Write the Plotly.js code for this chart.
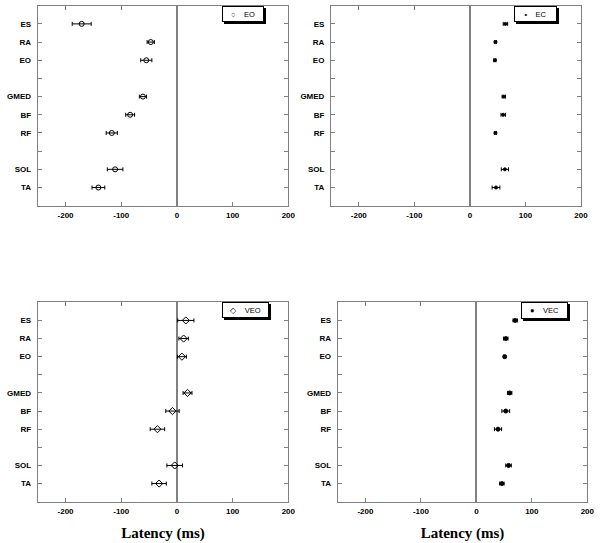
<!DOCTYPE html>
<html>
<head>
<meta charset="utf-8">
<script src="https://cdn.plot.ly/plotly-3.0.1.min.js"></script>
<style>html,body{margin:0;padding:0;background:#fff;} #chart{width:601px;height:543px;}</style>
</head>
<body>
<div id="chart"></div>
<script>
// Muscles from top to bottom
var muscles = ["ES", "RA", "EO", "GMED", "BF", "RF", "SOL", "TA"];
// Category order on the y axis, bottom to top (blank spacer rows between groups)
var categoryOrder = ["TA", "SOL", " ", "RF", "BF", "GMED", "  ", "EO", "RA", "ES"];
var xTicks = [-200, -100, 0, 100, 200];
var xTickLabels = ["-200", "-100", "0", "100", "200"];

var eoMean  = [-171, -47, -55, -61, -84, -117, -111, -141];
var eoErr   = [17, 6.5, 10, 6.5, 8, 10, 14, 11.5];
var ecMean  = [64, 46, 45, 61, 60, 46, 63, 47];
var ecErr   = [4, 2, 2, 3, 4, 2, 6.5, 7];
var veoMean = [16, 12, 9, 19, -8, -35, -4, -32];
var veoErr  = [14.5, 8.5, 8, 8, 12, 13, 14, 13];
var vecMean = [70, 53, 51, 60, 53, 39, 58, 46];
var vecErr  = [4, 4, 2, 4, 7, 6.5, 5, 4];

var W = 601, H = 543;
function px(x){ return x / W; }
function py(y){ return 1 - y / H; }

function trace(name, mean, err, symbol, size, ax) {
  return {
    type: "scatter", mode: "markers", name: name,
    x: mean, y: muscles,
    xaxis: "x" + ax, yaxis: "y" + ax,
    showlegend: false,
    marker: {symbol: symbol, size: size, color: "#000", line: {color: "#000", width: 1}},
    error_x: {type: "data", array: err, visible: true, color: "#000", thickness: 1, width: 2}
  };
}

var data = [
  trace("EO", eoMean, eoErr, "circle-open", 5, ""),
  trace("EC", ecMean, ecErr, "circle", 3, "2"),
  trace("VEO", veoMean, veoErr, "diamond-open", 5.5, "3"),
  trace("VEC", vecMean, vecErr, "circle", 4, "4")
];

var tickFont = {family: "Liberation Sans, Arial, sans-serif", size: 8, color: "#000", weight: "bold"};

function xAxis(domain, anchor, withTitle) {
  var a = {
    domain: domain, anchor: anchor, range: [-250, 200],
    tickmode: "array", tickvals: xTicks, ticktext: xTickLabels,
    ticks: "inside", ticklen: 4, tickcolor: "#808080",
    showline: true, linecolor: "#808080", linewidth: 1, mirror: "ticks",
    showgrid: false, zeroline: true, zerolinecolor: "#808080", zerolinewidth: 2,
    tickfont: tickFont, ticklabelstandoff: 2, fixedrange: true
  };
  if (withTitle) {
    a.title = {text: "Latency (ms)", font: {family: "Liberation Serif, Times New Roman, serif", size: 15, color: "#000", weight: "bold"}, standoff: 12};
  }
  return a;
}
function yAxis(domain, anchor) {
  return {
    domain: domain, anchor: anchor, type: "category",
    categoryorder: "array", categoryarray: categoryOrder, range: [-1, 10],
    ticks: "inside", ticklen: 4, tickcolor: "#808080",
    showline: true, linecolor: "#808080", linewidth: 1, mirror: "ticks",
    showgrid: false, zeroline: false, tickfont: tickFont, ticklabelstandoff: 4,
    fixedrange: true
  };
}

var topDom = [py(205.7), py(5.7)];
var botDom = [py(501.7), py(302.3)];

function legendBox(x0, y0, w, h, label, glyph) {
  var shadow = {
    xref: "paper", yref: "paper", x: px(x0), y: py(y0), xanchor: "left", yanchor: "top",
    text: "\u00a0", width: w, height: h, showarrow: false, bgcolor: "#000",
    borderwidth: 1, bordercolor: "#000", borderpad: 0, xshift: 2, yshift: -2
  };
  var box = {
    xref: "paper", yref: "paper", x: px(x0), y: py(y0), xanchor: "left", yanchor: "top",
    text: glyph + "\u00a0\u00a0\u00a0\u00a0" + label, width: w, height: h, align: "center", valign: "middle",
    showarrow: false, bgcolor: "#fff", borderwidth: 1, bordercolor: "#000", borderpad: 0,
    font: {family: "Liberation Sans, Arial, sans-serif", size: 7.5, color: "#000"}
  };
  return [shadow, box];
}

var annotations = []
  .concat(legendBox(221.7, 5.7, 40, 14, "EO", "\u25CB"))
  .concat(legendBox(514.3, 5.7, 41, 14, "EC", "\u2022"))
  .concat(legendBox(221.7, 302.3, 45, 14, "VEO", "\u25C7"))
  .concat(legendBox(520.7, 302.3, 45, 15, "VEC", "\u25CF"));

var layout = {
  width: W, height: H,
  margin: {l: 0, r: 0, t: 0, b: 0},
  paper_bgcolor: "#fff", plot_bgcolor: "#fff",
  showlegend: false,
  xaxis:  xAxis([px(37.7), px(288.3)], "y", false),
  yaxis:  yAxis(topDom, "x"),
  xaxis2: xAxis([px(331), px(581)], "y2", false),
  yaxis2: yAxis(topDom, "x2"),
  xaxis3: xAxis([px(37.7), px(288.3)], "y3", true),
  yaxis3: yAxis(botDom, "x3"),
  xaxis4: xAxis([px(337.7), px(587.3)], "y4", true),
  yaxis4: yAxis(botDom, "x4"),
  annotations: annotations
};

Plotly.newPlot("chart", data, layout, {displayModeBar: false, staticPlot: true});
</script>
</body>
</html>
